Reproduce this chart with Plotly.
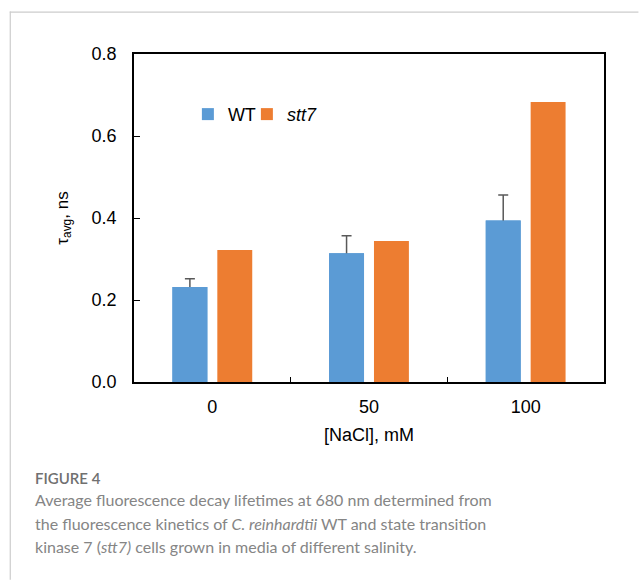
import plotly.graph_objects as go

# ---- data ----
categories = ["0", "50", "100"]
wt_values = [0.232, 0.314, 0.394]
wt_errors = [0.020, 0.043, 0.062]
stt7_values = [0.322, 0.344, 0.683]
series_names = ["WT", "<i>stt7</i>"]
y_tick_vals = [0.0, 0.2, 0.4, 0.6, 0.8]
y_tick_text = ["0.0", "0.2", "0.4", "0.6", "0.8"]

W, H = 639, 580
L, R, T, B = 133.5, 34.5, 53.5, 198
PW, PH = W - L - R, H - T - B


def px(x):
    return (x - L) / PW


def py(y):
    return 1 - (y - T) / PH


FONT = "Arial, Liberation Sans, sans-serif"
WT_COLOR = "#5B9BD5"
STT7_COLOR = "#ED7D31"

# one-sided (upper) error bars: the lower end is tucked just inside the bar,
# where the overlaid copy of the WT bars hides it
hidden_minus = [0.005 for _ in wt_errors]

fig = go.Figure()
fig.add_trace(go.Bar(
    x=categories, y=wt_values, name=series_names[0], offsetgroup="wt", legendwidth=14,
    marker=dict(color=WT_COLOR, line=dict(width=0)),
    error_y=dict(type="data", array=wt_errors, arrayminus=hidden_minus,
                 symmetric=False, color="#595959", thickness=1.5, width=5),
))
fig.add_trace(go.Bar(
    x=categories, y=stt7_values, name=series_names[1], offsetgroup="stt7",
    marker=dict(color=STT7_COLOR, line=dict(width=0)),
))
fig.add_trace(go.Bar(
    x=categories, y=wt_values, name=series_names[0], offsetgroup="wt",
    marker=dict(color=WT_COLOR, line=dict(width=0)), showlegend=False, hoverinfo="skip",
))

fig.update_layout(
    width=W, height=H,
    margin=dict(l=L, r=R, t=T, b=B, pad=0),
    paper_bgcolor="white", plot_bgcolor="white",
    barmode="group", bargap=0.427, bargroupgap=0.222,
    font=dict(family=FONT, size=18, color="#000000"),
    showlegend=True,
    legend=dict(orientation="h", x=px(187.5), y=py(114), xanchor="left", yanchor="middle",
                font=dict(family=FONT, size=18, color="#000"),
                itemwidth=30, bgcolor="rgba(0,0,0,0)", tracegroupgap=0,
                traceorder="normal"),
    xaxis=dict(
        type="category", showline=True, linecolor="#000", linewidth=1.5, mirror=True,
        ticks="inside", ticklen=5, tickcolor="#000", tickwidth=1.2, tickson="boundaries",
        showgrid=False, zeroline=False,
        tickfont=dict(family=FONT, size=18, color="#000"),
        ticklabelstandoff=8,
        title=dict(text="[NaCl], mM", font=dict(family=FONT, size=18, color="#000"), standoff=12),
    ),
    yaxis=dict(
        range=[0, 0.8], tickvals=y_tick_vals, ticktext=y_tick_text,
        showline=True, linecolor="#000", linewidth=1.5, mirror=True,
        ticks="inside", ticklen=6, tickcolor="#000", tickwidth=1.2,
        showgrid=False, zeroline=False,
        tickfont=dict(family=FONT, size=18, color="#000"),
        ticklabelstandoff=12,
        title=dict(text="τ<sub>avg</sub>, ns", font=dict(family=FONT, size=17, color="#000"), standoff=19),
    ),
)

# border of the figure panel (top and left light lines)
fig.add_shape(type="line", xref="paper", yref="paper", x0=px(9), x1=px(639), y0=py(11.5), y1=py(11.5),
              line=dict(color="#cccccc", width=1.2))
fig.add_shape(type="line", xref="paper", yref="paper", x0=px(9.5), x1=px(9.5), y0=py(11), y1=py(580),
              line=dict(color="#cccccc", width=1.2))

CAP_FONT = "Lato, Open Sans, sans-serif"
fig.add_annotation(text="FIGURE 4", xref="paper", yref="paper", x=px(32), y=py(478),
                   xanchor="left", yanchor="middle", showarrow=False,
                   font=dict(family=CAP_FONT, size=15, color="#707070", weight=600))
caption_lines = [
    "Average fluorescence decay lifetimes at 680 nm determined from",
    "the fluorescence kinetics of <i>C. reinhardtii</i> WT and state transition",
    "kinase 7 (<i>stt7)</i> cells grown in media of different salinity.",
]
for i, line in enumerate(caption_lines):
    fig.add_annotation(text=line, xref="paper", yref="paper", x=px(32), y=py(500 + 23.3 * i),
                       xanchor="left", yanchor="middle", showarrow=False,
                       font=dict(family=CAP_FONT, size=16, color="#858585"))

fig.write_html("out.html")
